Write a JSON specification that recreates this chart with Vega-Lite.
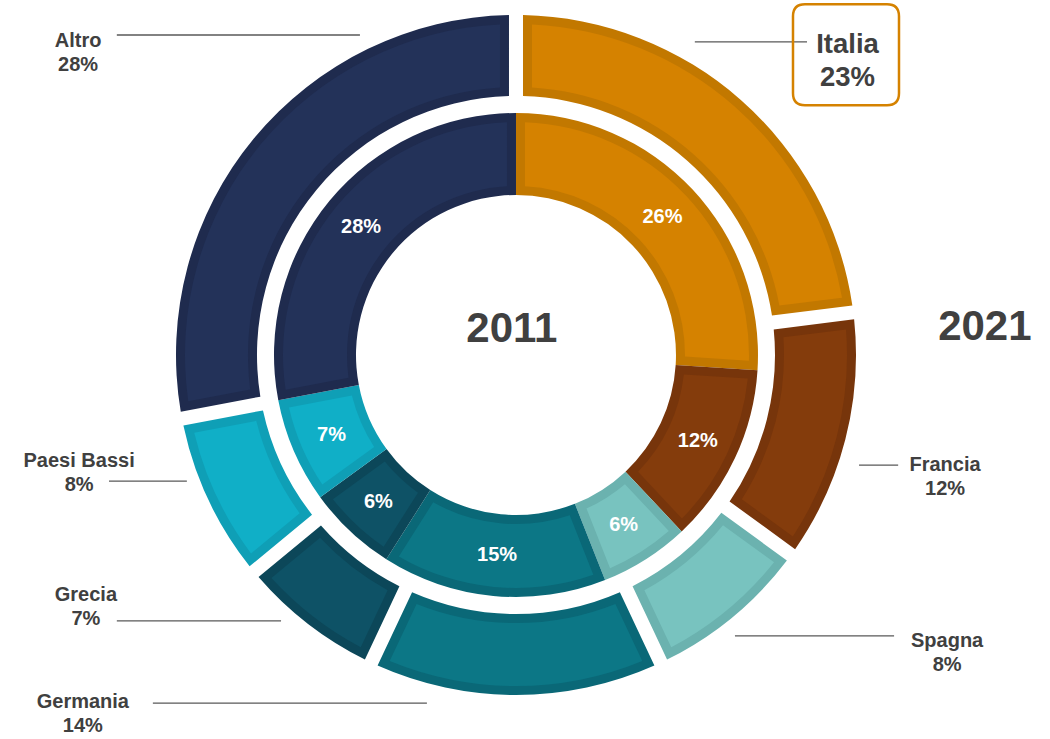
{
  "$schema": "https://vega.github.io/schema/vega-lite/v6.json",
  "width": 1050,
  "height": 739,
  "autosize": {"type": "none"},
  "padding": 0,
  "background": "white",
  "config": {"view": {"stroke": null}, "font": "Liberation Sans"},
  "datasets": {
    "quote": [
      {"anno": "2011", "paese": "Italia", "quota": 26, "ord": 1},
      {"anno": "2011", "paese": "Francia", "quota": 12, "ord": 2},
      {"anno": "2011", "paese": "Spagna", "quota": 6, "ord": 3},
      {"anno": "2011", "paese": "Germania", "quota": 15, "ord": 4},
      {"anno": "2011", "paese": "Grecia", "quota": 6, "ord": 5},
      {"anno": "2011", "paese": "Paesi Bassi", "quota": 7, "ord": 6},
      {"anno": "2011", "paese": "Altro", "quota": 28, "ord": 7},
      {"anno": "2021", "paese": "Italia", "quota": 23, "ord": 1},
      {"anno": "2021", "paese": "Francia", "quota": 12, "ord": 2},
      {"anno": "2021", "paese": "Spagna", "quota": 8, "ord": 3},
      {"anno": "2021", "paese": "Germania", "quota": 14, "ord": 4},
      {"anno": "2021", "paese": "Grecia", "quota": 7, "ord": 5},
      {"anno": "2021", "paese": "Paesi Bassi", "quota": 8, "ord": 6},
      {"anno": "2021", "paese": "Altro", "quota": 28, "ord": 7}
    ],
    "etichette": [
      {"paese": "Italia", "quota": 23, "tx": 97.5, "ty": 86.4, "lx1": 52.6, "lx2": 85.6, "ly": 92.1},
      {"paese": "Francia", "quota": 12, "tx": 126.2, "ty": -36.0, "lx1": 100.9, "lx2": 112.4, "ly": -32.4},
      {"paese": "Spagna", "quota": 8, "tx": 126.8, "ty": -87.5, "lx1": 64.4, "lx2": 111.2, "ly": -82.6},
      {"paese": "Germania", "quota": 14, "tx": -127.4, "ty": -105.7, "lx1": -106.8, "lx2": -26.2, "ly": -102.4},
      {"paese": "Grecia", "quota": 7, "tx": -126.5, "ty": -74.0, "lx1": -117.4, "lx2": -69.1, "ly": -78.2},
      {"paese": "Paesi Bassi", "quota": 8, "tx": -128.5, "ty": -34.8, "lx1": -119.7, "lx2": -96.8, "ly": -37.1},
      {"paese": "Altro", "quota": 28, "tx": -128.8, "ty": 88.8, "lx1": -117.4, "lx2": -45.9, "ly": 94.1}
    ],
    "anni": [
      {"anno": "2011", "x": -1.2, "y": 7.6},
      {"anno": "2021", "x": 137.9, "y": 8.1}
    ]
  },
  "resolve": {"scale": {"color": "independent"}},
  "layer": [
    {
      "mark": {"type": "rect", "fill": {"gradient": "linear", "x1": 0, "x2": 1, "y1": 0, "y2": 0, "stops": [{"offset": 0, "color": "#cccccc"}, {"offset": 1, "color": "#ffffff"}]}},
      "encoding": {
        "x": {"datum": -151.76, "type": "quantitative", "scale": {"domain": [-151.76, 157.06], "nice": false, "zero": false}, "axis": null},
        "x2": {"datum": -149.9},
        "y": {"datum": -112.94, "type": "quantitative", "scale": {"domain": [-112.94, 104.41], "nice": false, "zero": false}, "axis": null},
        "y2": {"datum": 104.41}
      }
    },
    {
      "data": {"name": "quote"},
      "transform": [{"filter": "datum.anno === '2021'"}],
      "mark": {"type": "arc", "radius": 340, "radius2": 259, "padAngle": 0.0328},
      "encoding": {
        "x": {"datum": 0, "type": "quantitative", "scale": {"domain": [-151.76, 157.06], "nice": false, "zero": false}, "axis": null},
        "y": {"datum": 0, "type": "quantitative", "scale": {"domain": [-112.94, 104.41], "nice": false, "zero": false}, "axis": null},
        "theta": {"field": "quota", "type": "quantitative", "stack": true, "scale": {"domain": [0, 100]}},
        "order": {"field": "ord", "type": "quantitative", "sort": "ascending"},
        "color": {"field": "paese", "type": "nominal", "legend": null,
          "scale": {"domain": ["Italia", "Francia", "Spagna", "Germania", "Grecia", "Paesi Bassi", "Altro"],
                    "range": ["#C27800", "#77350B", "#6BB2AF", "#0A6877", "#0C4759", "#0F9FB6", "#1F2B4E"]}}
      }
    },
    {
      "data": {"name": "quote"},
      "transform": [{"filter": "datum.anno === '2021'"}],
      "mark": {"type": "arc", "radius": 331, "radius2": 268, "padAngle": 0.0752},
      "encoding": {
        "x": {"datum": 0, "type": "quantitative", "scale": {"domain": [-151.76, 157.06], "nice": false, "zero": false}, "axis": null},
        "y": {"datum": 0, "type": "quantitative", "scale": {"domain": [-112.94, 104.41], "nice": false, "zero": false}, "axis": null},
        "theta": {"field": "quota", "type": "quantitative", "stack": true, "scale": {"domain": [0, 100]}},
        "order": {"field": "ord", "type": "quantitative", "sort": "ascending"},
        "color": {"field": "paese", "type": "nominal", "legend": null,
          "scale": {"domain": ["Italia", "Francia", "Spagna", "Germania", "Grecia", "Paesi Bassi", "Altro"],
                    "range": ["#D58200", "#843C0C", "#78C3BF", "#0C7786", "#0E5266", "#10AFC7", "#233259"]}}
      }
    },
    {
      "data": {"name": "quote"},
      "transform": [{"filter": "datum.anno === '2011'"}],
      "mark": {"type": "arc", "radius": 242, "radius2": 160},
      "encoding": {
        "x": {"datum": 0, "type": "quantitative", "scale": {"domain": [-151.76, 157.06], "nice": false, "zero": false}, "axis": null},
        "y": {"datum": 0, "type": "quantitative", "scale": {"domain": [-112.94, 104.41], "nice": false, "zero": false}, "axis": null},
        "theta": {"field": "quota", "type": "quantitative", "stack": true, "scale": {"domain": [0, 100]}},
        "order": {"field": "ord", "type": "quantitative", "sort": "ascending"},
        "color": {"field": "paese", "type": "nominal", "legend": null,
          "scale": {"domain": ["Italia", "Francia", "Spagna", "Germania", "Grecia", "Paesi Bassi", "Altro"],
                    "range": ["#C27800", "#77350B", "#6BB2AF", "#0A6877", "#0C4759", "#0F9FB6", "#1F2B4E"]}}
      }
    },
    {
      "data": {"name": "quote"},
      "transform": [{"filter": "datum.anno === '2011'"}],
      "mark": {"type": "arc", "radius": 233, "radius2": 169, "padAngle": 0.0626},
      "encoding": {
        "x": {"datum": 0, "type": "quantitative", "scale": {"domain": [-151.76, 157.06], "nice": false, "zero": false}, "axis": null},
        "y": {"datum": 0, "type": "quantitative", "scale": {"domain": [-112.94, 104.41], "nice": false, "zero": false}, "axis": null},
        "theta": {"field": "quota", "type": "quantitative", "stack": true, "scale": {"domain": [0, 100]}},
        "order": {"field": "ord", "type": "quantitative", "sort": "ascending"},
        "color": {"field": "paese", "type": "nominal", "legend": null,
          "scale": {"domain": ["Italia", "Francia", "Spagna", "Germania", "Grecia", "Paesi Bassi", "Altro"],
                    "range": ["#D58200", "#843C0C", "#78C3BF", "#0C7786", "#0E5266", "#10AFC7", "#233259"]}}
      }
    },
    {
      "data": {"name": "quote"},
      "transform": [
        {"filter": "datum.anno === '2011'"},
        {"calculate": "datum.quota + '%'", "as": "etichetta"}
      ],
      "mark": {"type": "text", "radius": 201, "fontSize": 20, "fontWeight": "bold", "color": "white", "align": "center", "baseline": "middle"},
      "encoding": {
        "x": {"datum": 0, "type": "quantitative", "scale": {"domain": [-151.76, 157.06], "nice": false, "zero": false}, "axis": null},
        "y": {"datum": 0, "type": "quantitative", "scale": {"domain": [-112.94, 104.41], "nice": false, "zero": false}, "axis": null},
        "theta": {"field": "quota", "type": "quantitative", "stack": true, "scale": {"domain": [0, 100]}},
        "order": {"field": "ord", "type": "quantitative", "sort": "ascending"},
        "text": {"field": "etichetta", "type": "nominal"}
      }
    },
    {
      "data": {"name": "etichette"},
      "mark": {"type": "rule", "color": "#595959", "strokeWidth": 1.4},
      "encoding": {
        "x": {"field": "lx1", "type": "quantitative", "scale": {"domain": [-151.76, 157.06], "nice": false, "zero": false}, "axis": null},
        "x2": {"field": "lx2"},
        "y": {"field": "ly", "type": "quantitative", "scale": {"domain": [-112.94, 104.41], "nice": false, "zero": false}, "axis": null}
      }
    },
    {
      "data": {"name": "etichette"},
      "transform": [
        {"filter": "datum.paese !== 'Italia'"},
        {"calculate": "[datum.paese, datum.quota + '%']", "as": "righe"}
      ],
      "mark": {"type": "text", "fontSize": 20, "fontWeight": "bold", "color": "#404040", "align": "center", "baseline": "middle", "lineHeight": 24, "yOffset": -12},
      "encoding": {
        "x": {"field": "tx", "type": "quantitative", "scale": {"domain": [-151.76, 157.06], "nice": false, "zero": false}, "axis": null},
        "y": {"field": "ty", "type": "quantitative", "scale": {"domain": [-112.94, 104.41], "nice": false, "zero": false}, "axis": null},
        "text": {"field": "righe", "type": "nominal"}
      }
    },
    {
      "data": {"name": "etichette"},
      "transform": [
        {"filter": "datum.paese === 'Italia'"},
        {"calculate": "[datum.paese, datum.quota + '%']", "as": "righe"}
      ],
      "mark": {"type": "text", "fontSize": 27.5, "fontWeight": "bold", "color": "#404040", "align": "center", "baseline": "middle", "lineHeight": 33, "yOffset": -16.5},
      "encoding": {
        "x": {"field": "tx", "type": "quantitative", "scale": {"domain": [-151.76, 157.06], "nice": false, "zero": false}, "axis": null},
        "y": {"field": "ty", "type": "quantitative", "scale": {"domain": [-112.94, 104.41], "nice": false, "zero": false}, "axis": null},
        "text": {"field": "righe", "type": "nominal"}
      }
    },
    {
      "data": {"name": "etichette"},
      "transform": [{"filter": "datum.paese === 'Italia'"}],
      "mark": {"type": "point", "filled": false, "stroke": "#D58200", "strokeWidth": 2.5, "opacity": 1, "size": 11236, "xOffset": -1.5, "yOffset": -6.5,
        "shape": "M -0.774,-0.953 L 0.774,-0.953 Q 1,-0.953 1,-0.727 L 1,0.727 Q 1,0.953 0.774,0.953 L -0.774,0.953 Q -1,0.953 -1,0.727 L -1,-0.727 Q -1,-0.953 -0.774,-0.953 Z"},
      "encoding": {
        "x": {"field": "tx", "type": "quantitative", "scale": {"domain": [-151.76, 157.06], "nice": false, "zero": false}, "axis": null},
        "y": {"field": "ty", "type": "quantitative", "scale": {"domain": [-112.94, 104.41], "nice": false, "zero": false}, "axis": null}
      }
    },
    {
      "data": {"name": "anni"},
      "mark": {"type": "text", "fontSize": 42, "fontWeight": "bold", "color": "#404040", "align": "center", "baseline": "middle"},
      "encoding": {
        "x": {"field": "x", "type": "quantitative", "scale": {"domain": [-151.76, 157.06], "nice": false, "zero": false}, "axis": null},
        "y": {"field": "y", "type": "quantitative", "scale": {"domain": [-112.94, 104.41], "nice": false, "zero": false}, "axis": null},
        "text": {"field": "anno", "type": "nominal"}
      }
    }
  ]
}
